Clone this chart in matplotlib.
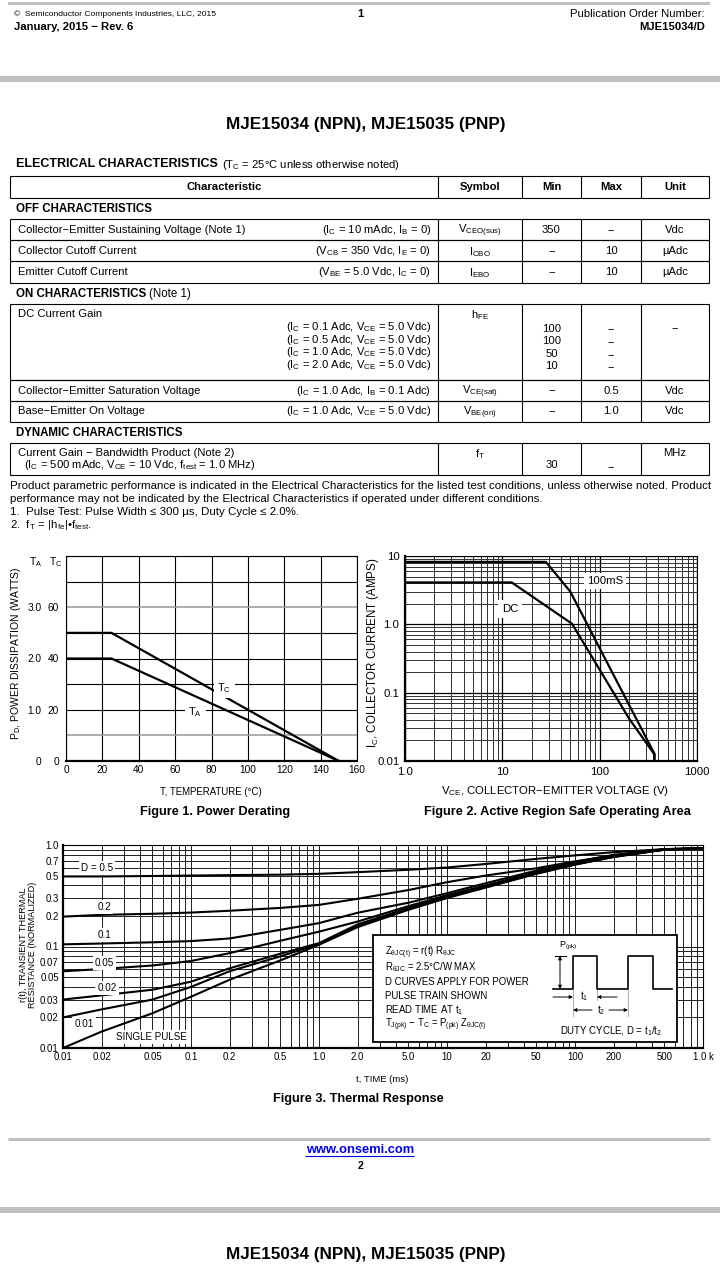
import numpy as np
import matplotlib
matplotlib.use('Agg')
import matplotlib.pyplot as plt
from matplotlib import font_manager
from matplotlib.patches import Rectangle
from matplotlib.ticker import LogLocator, NullFormatter, FixedLocator

names = {f.name for f in font_manager.fontManager.ttflist}
NARROW = 'Liberation Sans Narrow' if 'Liberation Sans Narrow' in names else 'Liberation Sans'
WIDE = 'Liberation Sans'

plt.rcParams['font.family'] = [NARROW, 'DejaVu Sans']
plt.rcParams['mathtext.fontset'] = 'custom'
plt.rcParams['mathtext.rm'] = NARROW
plt.rcParams['mathtext.it'] = NARROW
plt.rcParams['mathtext.bf'] = NARROW + ':bold'

# ---------------- data ----------------
col_names = ['Characteristic', 'Symbol', 'Min', 'Max', 'Unit']

off_names = ['Collector\u2212Emitter Sustaining Voltage (Note 1)', 'Collector Cutoff Current',
             'Emitter Cutoff Current']
off_cond = [r'(I$_\mathrm{C}$ = 10 mAdc, I$_\mathrm{B}$ = 0)', r'(V$_\mathrm{CB}$ = 350 Vdc, I$_\mathrm{E}$ = 0)',
            r'(V$_\mathrm{BE}$ = 5.0 Vdc, I$_\mathrm{C}$ = 0)']
off_sym = [r'V$_\mathrm{CEO(sus)}$', r'I$_\mathrm{CBO}$', r'I$_\mathrm{EBO}$']
off_min = ['350', '\u2212', '\u2212']
off_max = ['\u2212', '10', '10']
off_unit = ['Vdc', '\u00b5Adc', '\u00b5Adc']

hfe_cond = [r'(I$_\mathrm{C}$ = 0.1 Adc, V$_\mathrm{CE}$ = 5.0 Vdc)', r'(I$_\mathrm{C}$ = 0.5 Adc, V$_\mathrm{CE}$ = 5.0 Vdc)',
            r'(I$_\mathrm{C}$ = 1.0 Adc, V$_\mathrm{CE}$ = 5.0 Vdc)', r'(I$_\mathrm{C}$ = 2.0 Adc, V$_\mathrm{CE}$ = 5.0 Vdc)']
hfe_min = ['100', '100', '50', '10']

on_names = ['Collector\u2212Emitter Saturation Voltage', 'Base\u2212Emitter On Voltage']
on_cond = [r'(I$_\mathrm{C}$ = 1.0 Adc, I$_\mathrm{B}$ = 0.1 Adc)', r'(I$_\mathrm{C}$ = 1.0 Adc, V$_\mathrm{CE}$ = 5.0 Vdc)']
on_sym = [r'V$_\mathrm{CE(sat)}$', r'V$_\mathrm{BE(on)}$']
on_max = ['0.5', '1.0']

# Figure 1: power derating
temp_c = [0, 25, 150]
pd_tc = [50, 50, 0]          # watts, case temperature
pd_ta = [2.0, 2.0, 0.0]      # watts, ambient temperature
ta_scale = 20.0              # 1 W (TA) == 20 W (TC) on the shared grid

# Figure 2: safe operating area
vce_100ms = [1.0, 28, 50, 365, 365]
ic_100ms = [8.2, 8.2, 3.0, 0.0128, 0.01]
vce_dc = [1.0, 12.5, 52, 200, 365, 365]
ic_dc = [4.1, 4.1, 1.02, 0.042, 0.0125, 0.01]

# Figure 3: thermal response
t_ms = [0.01, 0.02, 0.05, 0.1, 0.2, 0.5, 1, 2, 5, 10, 20, 50, 100, 200, 500, 1000]
r_single = [0.010, 0.0145, 0.022, 0.032, 0.047, 0.073, 0.104, 0.155, 0.23, 0.30, 0.38, 0.52, 0.64, 0.76, 0.90, 0.93]
r_d001 = [0.020, 0.024, 0.030, 0.040, 0.057, 0.080, 0.106, 0.160, 0.235, 0.305, 0.385, 0.525, 0.645, 0.765, 0.90, 0.93]
r_d002 = [0.030, 0.033, 0.0375, 0.045, 0.061, 0.085, 0.108, 0.165, 0.24, 0.31, 0.39, 0.53, 0.65, 0.77, 0.90, 0.93]
r_d005 = [0.057, 0.060, 0.065, 0.072, 0.086, 0.114, 0.140, 0.176, 0.25, 0.32, 0.40, 0.54, 0.66, 0.78, 0.90, 0.93]
r_d01 = [0.105, 0.107, 0.110, 0.113, 0.120, 0.146, 0.170, 0.215, 0.27, 0.335, 0.42, 0.56, 0.68, 0.80, 0.91, 0.93]
r_d02 = [0.197, 0.205, 0.210, 0.216, 0.225, 0.240, 0.257, 0.295, 0.36, 0.43, 0.50, 0.59, 0.69, 0.79, 0.91, 0.93]
r_d05 = [0.49, 0.49, 0.495, 0.50, 0.505, 0.51, 0.52, 0.54, 0.57, 0.60, 0.65, 0.73, 0.79, 0.85, 0.91, 0.93]

t_ticks = [0.01, 0.02, 0.05, 0.1, 0.2, 0.5, 1, 2, 5, 10, 20, 50, 100, 200, 500, 1000]
t_labels = ['0.01', '0.02', '0.05', '0.1', '0.2', '0.5', '1.0', '2.0', '5.0', '10', '20', '50', '100', '200', '500', '1.0 k']
r_ticks = [0.01, 0.02, 0.03, 0.05, 0.07, 0.1, 0.2, 0.3, 0.5, 0.7, 1.0]
r_labels = ['0.01', '0.02', '0.03', '0.05', '0.07', '0.1', '0.2', '0.3', '0.5', '0.7', '1.0']

W, H = 720, 1280
fig = plt.figure(figsize=(7.2, 12.8), dpi=100)
bg = fig.add_axes([0, 0, 1, 1])
bg.set_xlim(0, W)
bg.set_ylim(H, 0)
bg.axis('off')

TS = 8.1  # table text size


def rect(l, t, r, b):
    return [l / W, 1 - b / H, (r - l) / W, (b - t) / H]


def txt(x, y, s, size=TS, ha='left', weight='normal', family=None, ax=None, **kw):
    (ax or bg).text(x, y, s, fontsize=size, ha=ha, va='center', fontweight=weight,
                    family=family or [NARROW, 'DejaVu Sans'], **kw)


def hline(x0, x1, y, lw=0.8, color='k'):
    bg.plot([x0, x1], [y, y], color=color, lw=lw, solid_capstyle='butt')


def vline(x, y0, y1, lw=0.8, color='k'):
    bg.plot([x, x], [y0, y1], color=color, lw=lw, solid_capstyle='butt')


# ---------------- page header ----------------
bg.add_patch(Rectangle((8, 2), 702, 3, color='#c0c0c0', lw=0))
txt(14, 14, '\u00a9  Semiconductor Components Industries, LLC, 2015', size=6.1)
txt(360, 14, '1', size=8, ha='center', weight='bold')
txt(705, 14, 'Publication Order Number:', size=8.2, ha='right')
txt(14, 27, 'January, 2015 \u2212 Rev. 6', size=8.1, weight='bold')
txt(705, 27, 'MJE15034/D', size=8.1, ha='right', weight='bold')
bg.add_patch(Rectangle((0, 76), W, 6, color='#c0c0c0', lw=0))
txt(366, 124, 'MJE15034 (NPN), MJE15035 (PNP)', size=12.3, ha='center', weight='bold')

# ---------------- table ----------------
cols = [10, 438, 522, 581, 641, 709]
ctr = [(cols[i] + cols[i + 1]) / 2 for i in range(5)]
txt(16, 164, 'ELECTRICAL CHARACTERISTICS', size=9.0, weight='bold')
txt(222, 165, r'(T$_\mathrm{C}$ = 25$\degree$C unless otherwise noted)', size=TS)


def box(top, bot):
    hline(cols[0], cols[-1], top)
    hline(cols[0], cols[-1], bot)
    for c in cols:
        vline(c, top, bot)


box(176, 198)
for i in range(5):
    txt(ctr[i], 187, col_names[i], weight='bold', ha='center')

txt(16, 209, 'OFF CHARACTERISTICS', size=8.3, weight='bold')
row_top = [219, 240, 261]
for i in range(3):
    top = row_top[i]
    box(top, top + 21 + (1 if i == 2 else 0))
    yc = top + 11
    txt(18, yc, off_names[i])
    txt(431, yc, off_cond[i], ha='right')
    txt(ctr[1], yc + 1, off_sym[i], ha='center')
    txt(ctr[2], yc, off_min[i], ha='center')
    txt(ctr[3], yc, off_max[i], ha='center')
    txt(ctr[4], yc, off_unit[i], ha='center')

txt(16, 294, 'ON CHARACTERISTICS', size=8.3, weight='bold')
txt(149, 294, '(Note 1)', size=8.3)
box(304, 380)
txt(18, 314, 'DC Current Gain')
txt(ctr[1], 315, r'h$_\mathrm{FE}$', ha='center')
for j in range(4):
    yc = 327 + 12.6 * j
    txt(431, yc, hfe_cond[j], ha='right')
    txt(ctr[2], yc + 1.5, hfe_min[j], ha='center')
    txt(ctr[3], yc + 2.5, '\u2212', ha='center')
txt(ctr[4], 328, '\u2212', ha='center')

for i in range(2):
    top = 380 + 21 * i
    box(top, top + 21)
    yc = top + 10.5
    txt(18, yc, on_names[i])
    txt(431, yc, on_cond[i], ha='right')
    txt(ctr[1], yc + 1, on_sym[i], ha='center')
    txt(ctr[2], yc, '\u2212', ha='center')
    txt(ctr[3], yc, on_max[i], ha='center')
    txt(ctr[4], yc, 'Vdc', ha='center')

txt(16, 433, 'DYNAMIC CHARACTERISTICS', size=8.3, weight='bold')
box(443, 475)
txt(18, 453, 'Current Gain \u2212 Bandwidth Product (Note 2)')
txt(24, 465, r'(I$_\mathrm{C}$ = 500 mAdc, V$_\mathrm{CE}$ = 10 Vdc, f$_\mathrm{test}$ = 1.0 MHz)')
txt(ctr[1], 454, r'f$_\mathrm{T}$', ha='center')
txt(ctr[2], 465, '30', ha='center')
txt(ctr[3], 467, '\u2212', ha='center')
txt(ctr[4], 453, 'MHz', ha='center')

PS = 8.25
txt(10, 486, 'Product parametric performance is indicated in the Electrical Characteristics for the listed test conditions, '
             'unless otherwise noted. Product', size=PS)
txt(10, 499, 'performance may not be indicated by the Electrical Characteristics if operated under different conditions.', size=PS)
txt(10, 512, '1.  Pulse Test: Pulse Width \u2264 300 \u00b5s, Duty Cycle \u2264 2.0%.', size=PS)
txt(10, 525, r'2.  f$_\mathrm{T}$ = |h$_\mathrm{fe}$|' + '\u2022' + r'f$_\mathrm{test}$.', size=PS)

# ---------------- Figure 1 ----------------
ax1 = fig.add_axes(rect(66, 556, 357, 761))
ax1.plot(temp_c, pd_tc, color='k', lw=1.6, zorder=3)
ax1.plot(temp_c, np.array(pd_ta) * ta_scale, color='k', lw=1.6, zorder=3)
ax1.set_xlim(0, 160)
ax1.set_ylim(0, 80)
ax1.set_xticks(range(0, 161, 20))
ax1.set_yticks(range(0, 81, 10))
ax1.set_yticklabels(['0', '', '20', '', '40', '', '60', '', ''])
ax1.grid(True, color='k', lw=0.8)
for gl, yv in zip(ax1.get_ygridlines(), range(0, 81, 10)):
    if yv in (10, 60):
        gl.set_color('#a0a0a0')
        gl.set_linewidth(1.2)
ax1.tick_params(length=0, labelsize=7.3, pad=3)
ax1.tick_params(axis='y', pad=5)
for s in ax1.spines.values():
    s.set_linewidth(0.8)
ax1.spines['bottom'].set_linewidth(1.6)
sec = ax1.secondary_yaxis(-0.08, functions=(lambda y: y / ta_scale, lambda w: w * ta_scale))
sec.set_yticks([0, 1, 2, 3])
sec.set_yticklabels(['0', '1.0', '2.0', '3.0'])
sec.tick_params(length=0, labelsize=7.3, pad=1)
sec.spines['left'].set_visible(False)
ax1.text(87, 28.5, r'T$_\mathrm{C}$', fontsize=7.8, ha='center', va='center', zorder=4,
         bbox=dict(facecolor='white', edgecolor='none', pad=2.5))
ax1.text(71, 19, r'T$_\mathrm{A}$', fontsize=7.8, ha='center', va='center', zorder=4,
         bbox=dict(facecolor='white', edgecolor='none', pad=2.5))
txt(36, 562, r'T$_\mathrm{A}$', size=7.5, ha='center')
txt(56, 562, r'T$_\mathrm{C}$', size=7.5, ha='center')
bg.text(16, 653, r'P$_\mathrm{D}$, POWER DISSIPATION (WATTS)', fontsize=7.5, rotation=90,
        ha='center', va='center')
txt(211, 792, 'T, TEMPERATURE (\u00b0C)', size=6.9, ha='center')
txt(215, 812, 'Figure 1. Power Derating', size=9.2, ha='center', weight='bold', family=[WIDE])

# ---------------- Figure 2 ----------------
ax2 = fig.add_axes(rect(405, 556, 697, 761))
ax2.loglog(vce_100ms, ic_100ms, color='k', lw=1.6, zorder=3)
ax2.loglog(vce_dc, ic_dc, color='k', lw=1.6, zorder=3)
ax2.set_xlim(1, 1000)
ax2.set_ylim(0.01, 10)
ax2.xaxis.set_major_locator(FixedLocator([1, 10, 100, 1000]))
ax2.yaxis.set_major_locator(FixedLocator([0.01, 0.1, 1, 10]))
ax2.set_xticklabels(['1.0', '10', '100', '1000'], family=[WIDE])
ax2.set_yticklabels(['0.01', '0.1', '1.0', '10'], family=[WIDE])
ax2.xaxis.set_minor_locator(LogLocator(base=10, subs=np.arange(2, 10), numticks=20))
ax2.yaxis.set_minor_locator(LogLocator(base=10, subs=np.arange(2, 10), numticks=20))
ax2.xaxis.set_minor_formatter(NullFormatter())
ax2.yaxis.set_minor_formatter(NullFormatter())
ax2.grid(True, which='major', color='k', lw=0.9)
ax2.grid(True, which='minor', color='#303030', lw=0.7)
ax2.tick_params(which='both', length=0, labelsize=8.2, pad=4)
for s in ax2.spines.values():
    s.set_linewidth(0.8)
ax2.spines['bottom'].set_linewidth(1.6)
ax2.spines['left'].set_linewidth(1.6)
ax2.text(113, 4.3, '100mS', fontsize=8.2, family=[WIDE], ha='center', va='center', zorder=4,
         bbox=dict(facecolor='white', edgecolor='none', pad=2))
ax2.text(12, 1.67, 'DC', fontsize=8.2, family=[WIDE], ha='center', va='center', zorder=4,
         bbox=dict(facecolor='white', edgecolor='none', pad=3))
bg.text(373, 653, r'I$_\mathrm{C}$, COLLECTOR CURRENT (AMPS)', fontsize=8.3, rotation=90,
        ha='center', va='center', family=[WIDE])
bg.text(555, 791, r'V$_\mathrm{CE}$, COLLECTOR' + '\u2212' + 'EMITTER VOLTAGE (V)', fontsize=8.2,
        ha='center', va='center', family=[WIDE])
txt(557, 812, 'Figure 2. Active Region Safe Operating Area', size=9.2, ha='center', weight='bold', family=[WIDE])

# ---------------- Figure 3 ----------------
ax3 = fig.add_axes(rect(63, 845, 703, 1048))
for r in [r_single, r_d001, r_d002, r_d005, r_d01, r_d02, r_d05]:
    ax3.loglog(t_ms, r, color='k', lw=1.5, zorder=3)
ax3.set_xlim(0.01, 1000)
ax3.set_ylim(0.01, 1.0)
ax3.xaxis.set_major_locator(FixedLocator(t_ticks))
ax3.yaxis.set_major_locator(FixedLocator(r_ticks))
ax3.set_xticklabels(t_labels)
ax3.set_yticklabels(r_labels)
ax3.xaxis.set_minor_locator(LogLocator(base=10, subs=np.arange(2, 10), numticks=30))
ax3.yaxis.set_minor_locator(LogLocator(base=10, subs=np.arange(2, 10), numticks=30))
ax3.xaxis.set_minor_formatter(NullFormatter())
ax3.yaxis.set_minor_formatter(NullFormatter())
ax3.grid(True, which='both', color='#202020', lw=0.7)
ax3.tick_params(which='both', length=0, labelsize=6.9, pad=3)
for s in ax3.spines.values():
    s.set_linewidth(0.8)
ax3.spines['bottom'].set_linewidth(1.6)
ax3.spines['left'].set_linewidth(1.6)
lab = dict(fontsize=7.1, ha='center', va='center', zorder=4,
           bbox=dict(facecolor='white', edgecolor='none', pad=1.5))
ax3.text(0.0185, 0.59, 'D = 0.5', **lab)
ax3.text(0.021, 0.245, '0.2', **lab)
ax3.text(0.021, 0.13, '0.1', **lab)
ax3.text(0.021, 0.069, '0.05', **lab)
ax3.text(0.022, 0.039, '0.02', **lab)
ax3.text(0.0146, 0.0174, '0.01', **lab)
ax3.text(0.049, 0.0128, 'SINGLE PULSE', **lab)

# overlay in page pixels for the info box and pulse-train sketch
fg = fig.add_axes([0, 0, 1, 1])
fg.set_xlim(0, W)
fg.set_ylim(H, 0)
fg.axis('off')
fg.add_patch(Rectangle((373, 935), 304, 107, facecolor='white', edgecolor='k', lw=1.3))
bsz = 6.9
for k, s in enumerate([r'Z$_{\theta\mathrm{JC(t)}}$ = r(t) R$_{\theta\mathrm{JC}}$',
                       r'R$_{\theta\mathrm{JC}}$ = 2.5$\degree$C/W MAX',
                       'D CURVES APPLY FOR POWER',
                       'PULSE TRAIN SHOWN',
                       r'READ TIME AT t$_\mathrm{1}$',
                       r'T$_\mathrm{J(pk)}$ ' + '\u2212' + r' T$_\mathrm{C}$ = P$_\mathrm{(pk)}$ Z$_{\theta\mathrm{JC(t)}}$']):
    fg.text(385, 953 + 14.3 * k, s, fontsize=bsz, ha='left', va='center')
fg.text(662, 1031, r'DUTY CYCLE, D = t$_\mathrm{1}$/t$_\mathrm{2}$', fontsize=bsz, ha='right', va='center')
px = [553, 573, 573, 597, 597, 628, 628, 653, 653, 672]
py = [989, 989, 956, 956, 989, 989, 956, 956, 989, 989]
fg.plot(px, py, color='k', lw=1.2)
fg.plot([555, 566], [956, 956], color='k', lw=0.8)
arrow = dict(arrowstyle='-|>', color='k', lw=0.7, mutation_scale=5, shrinkA=0, shrinkB=0)
fg.annotate('', xy=(560, 956), xytext=(560, 973), arrowprops=arrow)
fg.annotate('', xy=(560, 989), xytext=(560, 973), arrowprops=arrow)
fg.text(568, 946, r'P$_\mathrm{(pk)}$', fontsize=6.5, ha='center', va='center')
for xv, y0, y1 in [(573, 990, 1016), (597, 990, 1000), (628, 990, 1016)]:
    fg.plot([xv, xv], [y0, y1], color='#a0a0a0', lw=0.6)
fg.annotate('', xy=(573, 997), xytext=(553, 997), arrowprops=arrow)
fg.annotate('', xy=(597, 997), xytext=(617, 997), arrowprops=arrow)
fg.text(584, 996, r't$_\mathrm{1}$', fontsize=bsz, ha='center', va='center')
fg.annotate('', xy=(573, 1010), xytext=(592, 1010), arrowprops=arrow)
fg.annotate('', xy=(628, 1010), xytext=(609, 1010), arrowprops=arrow)
fg.text(601, 1010, r't$_\mathrm{2}$', fontsize=bsz, ha='center', va='center')

bg.text(28, 945, 'r(t), TRANSIENT THERMAL\nRESISTANCE (NORMALIZED)', fontsize=6.6, rotation=90,
        ha='center', va='center', linespacing=0.95)
txt(382, 1080, 't, TIME (ms)', size=6.8, ha='center')
txt(358, 1099, 'Figure 3. Thermal Response', size=9.2, ha='center', weight='bold', family=[WIDE])

# ---------------- footer ----------------
hline(8, 710, 1139, lw=2.2, color='#c0c0c0')
txt(360, 1150, 'www.onsemi.com', size=9.3, ha='center', weight='bold', color='#0000ee')
hline(305, 414, 1156, lw=0.8, color='#0000ee')
txt(360, 1166, '2', size=7.5, ha='center', weight='bold')
bg.add_patch(Rectangle((0, 1207), W, 6, color='#c0c0c0', lw=0))
txt(366, 1255, 'MJE15034 (NPN), MJE15035 (PNP)', size=12.3, ha='center', weight='bold')

fig.savefig('out.png', dpi=100)
